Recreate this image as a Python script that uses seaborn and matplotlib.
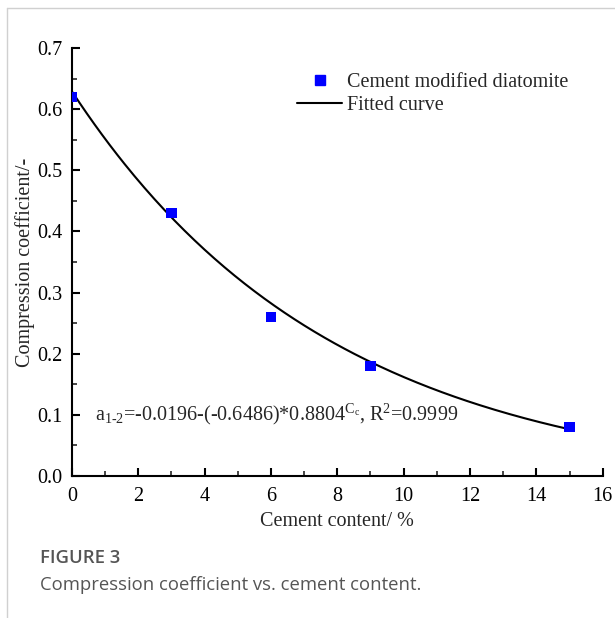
import numpy as np
import matplotlib.pyplot as plt
import seaborn as sns
from matplotlib.ticker import MultipleLocator
from matplotlib.lines import Line2D

cement = [0, 3, 6, 9, 15]
coef = [0.62, 0.43, 0.26, 0.18, 0.08]

# fitted curve coefficients as printed on the chart
fit_a, fit_b, fit_c = -0.0196, -0.6486, 0.8804

sns.set_style("ticks")
plt.rcParams['font.family'] = ['Liberation Serif', 'DejaVu Serif']
plt.rcParams['mathtext.fontset'] = 'custom'
plt.rcParams['mathtext.rm'] = 'Liberation Serif'
plt.rcParams['mathtext.it'] = 'Liberation Serif'

fs = 14.5
fig = plt.figure(figsize=(6.15, 6.18), dpi=100)
ax = fig.add_axes([0.117, 0.2298, 0.863, 0.6925])

xs = np.linspace(0, 15, 200)
ys = fit_a - fit_b * fit_c ** xs
sns.lineplot(x=xs, y=ys, ax=ax, color='black', linewidth=1.5, zorder=2)
sns.scatterplot(x=cement, y=coef, ax=ax, marker='s', s=60, color='#0000ff',
                edgecolor='none', zorder=3)

ax.set_xlim(0, 16)
ax.set_ylim(0, 0.7)
ax.xaxis.set_major_locator(MultipleLocator(2))
ax.xaxis.set_minor_locator(MultipleLocator(1))
ax.yaxis.set_major_locator(MultipleLocator(0.1))
ax.yaxis.set_minor_locator(MultipleLocator(0.05))
ax.xaxis.set_major_formatter(plt.FuncFormatter(lambda v, p: f"{v:.0f}"))
ax.yaxis.set_major_formatter(plt.FuncFormatter(lambda v, p: f"{v:.1f}"))
ax.tick_params(which='major', direction='in', length=6, width=1.5, labelsize=fs, colors='black')
ax.tick_params(which='minor', direction='in', length=3.5, width=1.2)
ax.tick_params(axis='x', which='major', pad=8)
ax.tick_params(axis='y', which='major', pad=7)
for side in ['top', 'right']:
    ax.spines[side].set_visible(False)
for side in ['left', 'bottom']:
    ax.spines[side].set_linewidth(1.5)
    ax.spines[side].set_color('black')

ax.set_xlabel("Cement content/ %", fontsize=fs, labelpad=4)
ax.set_ylabel("Compression coefficient/-", fontsize=fs, labelpad=1.5)

ax.text(0.69, 0.1, r"a$_{1\text{-}2}$=-0.0196-(-0.6486)*0.8804$^{\mathrm{C}_c}$, R$^2$=0.9999",
        fontsize=fs, va='center', ha='left')

handles = [Line2D([], [], marker='s', color='#0000ff', linestyle='none', markersize=7.5),
           Line2D([], [], color='black', linewidth=1.5)]
ax.legend(handles, ["Cement modified diatomite", "Fitted curve"], loc='upper left',
          bbox_to_anchor=(297 / 615, 1 - 73 / 618), bbox_transform=fig.transFigure,
          frameon=False, fontsize=fs, borderpad=0, borderaxespad=0,
          handlelength=2.25, handletextpad=0.25, labelspacing=0.2)

# page frame and caption
fig.add_artist(Line2D([7 / 615, 1], [1 - 8 / 618] * 2, color='#d0d0d0', linewidth=1))
fig.add_artist(Line2D([7 / 615] * 2, [0, 1 - 8 / 618], color='#d0d0d0', linewidth=1))
fig.text(40 / 615, 1 - 558 / 618, "FIGURE 3", family='Open Sans', fontsize=13.3,
         color='#555555', va='center', fontweight='semibold')
fig.text(40 / 615, 1 - 585 / 618, "Compression coefficient vs. cement content.",
         family='Open Sans', fontsize=13.3, color='#555555', va='center')

fig.savefig('out.png', dpi=100)
